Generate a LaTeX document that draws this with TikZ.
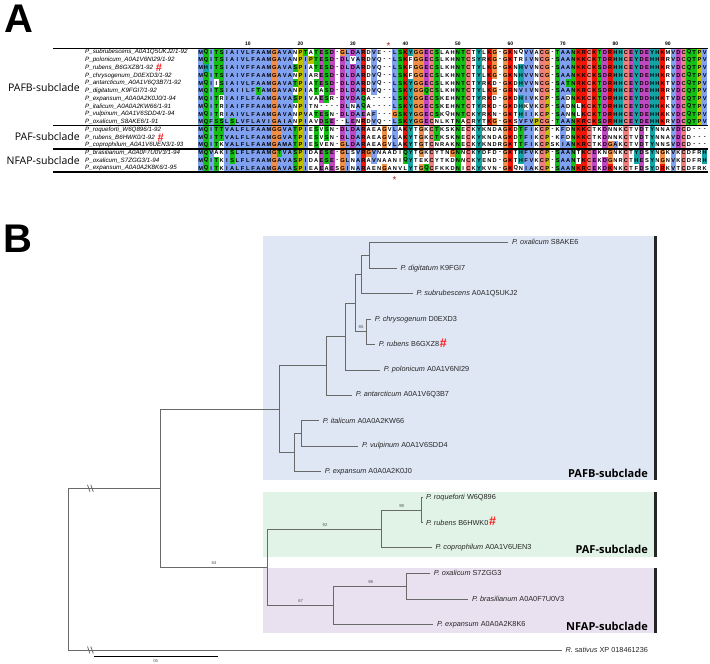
\documentclass[tikz,border=0pt]{standalone}
\usepackage{fontspec}
\setmainfont{Liberation Sans}
\newfontfamily\labfont{Open Sans}
\definecolor{cxblue}{RGB}{128,160,240}
\definecolor{cxred}{RGB}{240,21,5}
\definecolor{cxgreen}{RGB}{21,192,21}
\definecolor{cxpink}{RGB}{240,128,128}
\definecolor{cxmag}{RGB}{192,72,192}
\definecolor{cxorange}{RGB}{240,144,72}
\definecolor{cxcyan}{RGB}{21,164,164}
\definecolor{cxyellow}{RGB}{192,192,0}
\definecolor{boxblue}{RGB}{223,231,245}
\definecolor{boxgreen}{RGB}{225,243,230}
\definecolor{boxpurple}{RGB}{234,225,240}
\definecolor{treegray}{RGB}{105,105,105}
\definecolor{hashred}{RGB}{255,25,25}
\definecolor{astred}{RGB}{160,45,45}

\newcommand\alnfont{\bfseries\fontsize{5.7}{6}\selectfont}
\newcommand\alncell[4]{%
  \ifx\relax#3\relax\else
    \fill[#3] ({198.1+(#1-1)*5.25},{48.4+(#2-1)*7.73}) rectangle ++(5.3,7.78);%
  \fi
  \path ({198.1+(#1-0.5)*5.25},{52.27+(#2-1)*7.73}) node[inner sep=0pt,font=\alnfont] {#4};%
}

\ExplSyntaxOn
\seq_new:N \g_aln_rows_seq
\seq_gset_from_clist:Nn \g_aln_rows_seq
{
 MQITSIAIVLFAAMGAVANPTATESD-GLDARDVE--LSKYGGECSLAHNTCTYLKG-GKNQVVACG-TAANKRCKTDRHHCEYDEYHKMVDCQTPV,
 MQITSIAIVLFAAMGAVANPIPTESD-DLVARDVQ--LSKFGGECSLKHNTCSYRKG-GKTRIVNCG-SAANKKCKTDRHHCEYDEHHRRVDCQTPV,
 MHITSIAIVFFAAMGAVASPIATESD-DLDARDVQ--LSKFGGECSLKHNTCTYLKG-GKNHVVNCG-SAANKKCKSDRHHCEYDEHHKRVDCQTPV,
 MQITSIAIVFFAAMGAVANPIARESD-DLDARDVQ--LSKFGGECSLKHNTCTYLKG-GKNHVVNCG-SAANKKCKSDRHHCEYDEHHKRVDCQTPV,
 MQIISIAIVLFAAMGAVATPIATESD-DLDARDVQ--LSKYGGECSLKHNTCTYRKD-GKDHVVNCG-SATNRKCKTDRHHCEYDDHHKTVDCQTPV,
 MQITSIAIILFTAMGAVANPIATASD-DLDARDVQ--LSKYGGQCSLKHNTCTYLKG-GRNVIVNCG-SAANKRCKSDRHHCEYDEHHRRVDCQTPV,
 MQITRIAIFLFAAMGAVASPIVAESR-DVDAQA----LSKYGGECSKEHNTCTYRKD-GKDHIVKCP-SADNKKCKTDRHHCEYDDHHKTVDCQTPV,
 MQITRIAIFFFAAMGAVANPITN----DLNAQA----LSKYGGECSKEHNTCTYRKD-GKDHKVKCP-SADNLKCKTDRHHCEYDDHHKKVDCQTPV,
 MQITRIAIVLFAAMGAVANPVATESN-DLDAEAF---GSKYGGECSKQHNTCKYRKN-GKTHIIKCP-SANNLKCKTDRHHCEYDEHHKKVDCQTPV,
 MQFSSLSLVFLAVIGAIANPIAVDSE--LENRDVQ--LSKYGGECNLKTNACRYTKG-GKSVFVPCG-TAANKRCKSDRHHCEYDEHHKRVDCQTPV,
 MQITTVALFLFAAMGGVATPIESVSN-DLDARAEAGVLAKYTGKCTKSKNECKYKNDAGKDTFIKCP-KFDNKKCTKDNNKCTVDTYNNAVDCD---,
 MQITTVALFLFAAMGGVATPIESVSN-DLDARAEAGVLAKYTGKCTKSKNECKYKNDAGKDTFIKCP-KFDNKKCTKDNNKCTVDTYNNAVDCD---,
 MQITKVALFLFAAMGAMATPIESVEN-GLDARAEAGVLAKYTGTCNRAKNECKYKNDRGKTTFIKCPSKIANKRCTKDGAKCTVDTYNNSVDCD---,
 MQVAKISLFLFAAMGTVASPIDAESE-GLSVRGVNAADIQYTGKCYTNGNNCKYDFD-GKTHFVKCP-SAANTKCEKNGNKCTYDSYNGKVKCDFRH,
 MQITKISLFLFAAMGAVASPIDAESE-GLNARAVNAANIQYTEKCYTKDNNCKYEND-GKTHFVKCP-SAANTKCEKDGNRCTHESYNGNVKCDFRH,
 MQITKIALFLFAAMGAVASPIEAEAESGINARAENGANVLYTGQCFKKDNICKYKVN-GKQNIAKCP-SAANKRCEKDKNKCTFDSYDRKVTCDFRK
}
\tl_new:N \l_aln_col_tl
\tl_new:N \l_aln_ch_tl
\tl_new:N \l_aln_color_tl
\int_new:N \l_aln_count_int
\int_new:N \l_aln_i_int
\int_new:N \l_aln_j_int
\cs_new_protected:Npn \aln_count:n #1
  {
    \int_zero:N \l_aln_count_int
    \tl_map_inline:Nn \l_aln_col_tl
      { \tl_if_in:nnT {#1} {##1} { \int_incr:N \l_aln_count_int } }
  }
\cs_new_protected:Npn \aln_if:nnT #1#2#3
  {
    \aln_count:n {#2}
    \int_compare:nNnT { \l_aln_count_int * 100 } > { #1 * 16 } {#3}
  }
\cs_new_protected:Npn \aln_set:n #1 { \tl_set:Nn \l_aln_color_tl {#1} }
\cs_new_protected:Npn \aln_decide:n #1
  {
    \tl_clear:N \l_aln_color_tl
    \tl_if_in:nnT {AILMFWV} {#1}
      { \aln_if:nnT {60} {WLVIMAFCHP} { \aln_set:n {cxblue} } }
    \tl_if_in:nnT {KR} {#1}
      {
        \aln_if:nnT {60} {KR} { \aln_set:n {cxred} }
        \aln_if:nnT {80} {KRQ} { \aln_set:n {cxred} }
      }
    \tl_if_eq:nnT {#1} {N}
      {
        \aln_if:nnT {50} {N} { \aln_set:n {cxgreen} }
        \aln_if:nnT {85} {NY} { \aln_set:n {cxgreen} }
      }
    \tl_if_eq:nnT {#1} {C}
      {
        \aln_if:nnT {60} {WLVIMAFCHP} { \aln_set:n {cxblue} }
        \aln_if:nnT {85} {C} { \aln_set:n {cxpink} }
      }
    \tl_if_eq:nnT {#1} {Q}
      {
        \aln_if:nnT {60} {KR} { \aln_set:n {cxgreen} }
        \aln_if:nnT {50} {QE} { \aln_set:n {cxgreen} }
        \aln_if:nnT {85} {QEKR} { \aln_set:n {cxgreen} }
      }
    \tl_if_eq:nnT {#1} {E}
      {
        \aln_if:nnT {60} {KR} { \aln_set:n {cxmag} }
        \aln_if:nnT {50} {QE} { \aln_set:n {cxmag} }
        \aln_if:nnT {50} {ED} { \aln_set:n {cxmag} }
        \aln_if:nnT {85} {EQD} { \aln_set:n {cxmag} }
      }
    \tl_if_eq:nnT {#1} {D}
      {
        \aln_if:nnT {60} {KR} { \aln_set:n {cxmag} }
        \aln_if:nnT {85} {KRQ} { \aln_set:n {cxmag} }
        \aln_if:nnT {50} {ED} { \aln_set:n {cxmag} }
      }
    \tl_if_eq:nnT {#1} {G} { \aln_set:n {cxorange} }
    \tl_if_eq:nnT {#1} {P} { \aln_set:n {cxyellow} }
    \tl_if_in:nnT {HY} {#1}
      {
        \aln_if:nnT {60} {WLVIMAFCHP} { \aln_set:n {cxcyan} }
        \aln_if:nnT {85} {WYACPQFHILMV} { \aln_set:n {cxcyan} }
      }
    \tl_if_in:nnT {ST} {#1}
      {
        \aln_if:nnT {60} {WLVIMAFCHP} { \aln_set:n {cxgreen} }
        \aln_if:nnT {50} {TS} { \aln_set:n {cxgreen} }
        \aln_if:nnT {85} {ST} { \aln_set:n {cxgreen} }
      }
  }
\cs_new_protected:Npn \aln_draw:
  {
    \int_set:Nn \l_aln_j_int {1}
    \int_while_do:nNnn {\l_aln_j_int} < {98}
      {
        \tl_clear:N \l_aln_col_tl
        \seq_map_inline:Nn \g_aln_rows_seq
          { \tl_put_right:Nx \l_aln_col_tl { \tl_item:nn {##1} {\l_aln_j_int} } }
        \int_set:Nn \l_aln_i_int {1}
        \int_while_do:nNnn {\l_aln_i_int} < {17}
          {
            \tl_set:Nx \l_aln_ch_tl { \tl_item:Nn \l_aln_col_tl {\l_aln_i_int} }
            \exp_args:NV \aln_decide:n \l_aln_ch_tl
            \use:e
              {
                \exp_not:N \alncell
                  { \int_use:N \l_aln_j_int }
                  { \int_use:N \l_aln_i_int }
                  { \l_aln_color_tl }
                  { \l_aln_ch_tl }
              }
            \int_incr:N \l_aln_i_int
          }
        \int_incr:N \l_aln_j_int
      }
  }
\NewDocumentCommand \DrawAlignment {} { \aln_draw: }
\ExplSyntaxOff

\tikzset{
  tree/.style={draw=treegray, line width=0.8pt},
  leaf/.style={anchor=west, inner sep=0pt, text=black!85, font=\fontsize{7.3}{8}\selectfont},
  boot/.style={inner sep=0pt, text=black!70, font=\fontsize{4.2}{5}\selectfont},
  seqname/.style={anchor=west, inner sep=0pt, font=\itshape\fontsize{6.2}{7}\selectfont},
  cladeA/.style={anchor=east, inner sep=0pt, font=\labfont\fontsize{10.5}{12}\selectfont},
  cladeB/.style={anchor=east, inner sep=0pt, font=\labfont\bfseries\fontsize{11}{13}\selectfont},
  hashmark/.style={anchor=west, inner sep=0pt, text=hashred, font=\bfseries\fontsize{11}{11}\selectfont},
  treehash/.style={anchor=west, inner sep=0pt, text=hashred, font=\bfseries\fontsize{12.5}{12}\selectfont},
  sepline/.style={line width=1.4pt, black},
  cladebar/.style={fill=black!85},
  colnum/.style={inner sep=0pt, font=\bfseries\fontsize{5}{5}\selectfont},
  aster/.style={inner sep=0pt, text=astred, font=\fontsize{10}{10}\selectfont},
  panel/.style={inner sep=0pt, font=\bfseries\fontsize{40}{40}\selectfont},
}

\begin{document}
\begin{tikzpicture}[x=1pt,y=-1pt]
\useasboundingbox (0,0) rectangle (710,664);

% ---------------- Panel A ----------------
\node[panel] (labA) at (19,19) {A};
\DrawAlignment
\foreach \yy in {48.4,125.7,148.9,172.1} \draw[sepline] (53,\yy) -- (708,\yy);
\foreach \k in {10,20,...,90} \node[colnum] (c\k) at ({198.1+(\k-0.5)*5.25},43.5) {\k};
\node[aster] (astT) at (388.5,46.5) {*};
\node[aster] (astB) at (394.5,180.5) {*};

\node[seqname] (s1) at (85,52.27) {P\_subrubescens\_A0A1Q5UKJ2/1-92};
\node[seqname] (s2) at (85,60.0) {P\_polonicum\_A0A1V6NI29/1-92};
\node[seqname] (s3) at (85,67.73) {P\_rubens\_B6GXZ8/1-92};
\node[seqname] (s4) at (85,75.46) {P\_chrysogenum\_D0EXD3/1-92};
\node[seqname] (s5) at (85,83.19) {P\_antarcticum\_A0A1V6Q3B7/1-92};
\node[seqname] (s6) at (85,90.92) {P\_digitatum\_K9FGI7/1-92};
\node[seqname] (s7) at (85,98.65) {P\_expansum\_A0A0A2K0J0/1-94};
\node[seqname] (s8) at (85,106.38) {P\_italicum\_A0A0A2KW66/1-91};
\node[seqname] (s9) at (85,114.11) {P\_vulpinum\_A0A1V6SDD4/1-94};
\node[seqname] (s10) at (85,121.84) {P\_oxalicum\_S8AKE6/1-91};
\node[seqname] (s11) at (85,129.57) {P\_roqueforti\_W6Q896/1-92};
\node[seqname] (s12) at (85,137.3) {P\_rubens\_B6HWK0/1-92};
\node[seqname] (s13) at (85,145.03) {P\_coprophilum\_A0A1V6UEN3/1-93};
\node[seqname] (s14) at (85,152.76) {P\_brasilianum\_A0A0F7U0V3/1-94};
\node[seqname] (s15) at (85,160.49) {P\_oxalicum\_S7ZGG3/1-94};
\node[seqname] (s16) at (85,168.22) {P\_expansum\_A0A0A2K8K6/1-95};
\node[hashmark] (h1) at ([xshift=2.5pt]s3.east) {\#};
\node[hashmark] (h2) at ([xshift=2.5pt]s12.east) {\#};

\node[cladeA] (ca1) at (80,87.3) {PAFB-subclade};
\node[cladeA] (ca2) at (80,136.8) {PAF-subclade};
\node[cladeA] (ca3) at (80,160.7) {NFAP-subclade};

% ---------------- Panel B ----------------
\node[panel] (labB) at (17.5,239) {B};

\fill[boxblue] (263,236) rectangle (654,480);
\fill[boxgreen] (263,491.7) rectangle (654,556.7);
\fill[boxpurple] (263,567.7) rectangle (654,632.7);
\fill[cladebar] (654,236) rectangle (656.8,480);
\fill[cladebar] (654,491.7) rectangle (656.8,556.7);
\fill[cladebar] (654,567.7) rectangle (656.8,632.7);
\node[cladeB] (cb1) at (648,473) {PAFB-subclade};
\node[cladeB] (cb2) at (648,549) {PAF-subclade};
\node[cladeB] (cb3) at (648,626) {NFAP-subclade};

% internal nodes
\coordinate (R0) at (68.3,569.2);
\coordinate (N1) at (160,488.3);
\coordinate (P0) at (279.3,409.5);
\coordinate (N2) at (267.3,567.5);
\coordinate (A1) at (326.7,365.4);
\coordinate (B1) at (294.3,452.5);
\coordinate (B2) at (301,433.4);
\coordinate (A2) at (345,336.6);
\coordinate (A3) at (355.7,303.3);
\coordinate (A4) at (361.7,274.5);
\coordinate (A5) at (366,331.8);
\coordinate (A6) at (369,255.3);
\coordinate (C1) at (381.7,529.2);
\coordinate (C2) at (421.7,510.2);
\coordinate (D1) at (333.3,605.2);
\coordinate (D2) at (406,586.3);
% tips
\coordinate (t1) at (508.3,242.3);
\coordinate (t2) at (396.7,268.3);
\coordinate (t3) at (412.7,293.3);
\coordinate (t4) at (371,319.3);
\coordinate (t5) at (375,344.3);
\coordinate (t6) at (380,370);
\coordinate (t7) at (352,395);
\coordinate (t8) at (319,420.7);
\coordinate (t9) at (358.3,446);
\coordinate (t10) at (321,471.7);
\coordinate (t11) at (422.2,497.7);
\coordinate (t12) at (422.2,522.7);
\coordinate (t13) at (431.7,547.7);
\coordinate (t14) at (430,573.3);
\coordinate (t15) at (468.3,599.3);
\coordinate (t16) at (433.3,624.3);
\coordinate (t17) at (561.7,650);

\foreach \p/\c in {R0/N1,R0/t17,N1/P0,N1/N2,P0/A1,P0/B1,A1/A2,A1/t7,A2/A3,A2/t6,
  A3/A4,A3/A5,A4/A6,A4/t3,A6/t1,A6/t2,A5/t4,A5/t5,B1/B2,B1/t10,B2/t8,B2/t9,
  N2/C1,N2/D1,C1/C2,C1/t13,C2/t11,C2/t12,D1/D2,D1/t16,D2/t14,D2/t15}
  \draw[tree] (\p) |- (\c);

% root break marks
\draw[tree] (87.5,484.8) -- (90,491.8);
\draw[tree] (90.8,484.8) -- (93.3,491.8);
\draw[tree] (87.5,646.5) -- (90,653.5);
\draw[tree] (90.8,646.5) -- (93.3,653.5);

% leaf labels
\node[leaf] (l1) at ([xshift=3.6pt]t1) {\textit{P. oxalicum} S8AKE6};
\node[leaf] (l2) at ([xshift=3.6pt]t2) {\textit{P. digitatum} K9FGI7};
\node[leaf] (l3) at ([xshift=3.6pt]t3) {\textit{P. subrubescens} A0A1Q5UKJ2};
\node[leaf] (l4) at ([xshift=3.6pt]t4) {\textit{P. chrysogenum} D0EXD3};
\node[leaf] (l5) at ([xshift=3.6pt]t5) {\textit{P. rubens} B6GXZ8};
\node[leaf] (l6) at ([xshift=3.6pt]t6) {\textit{P. polonicum} A0A1V6NI29};
\node[leaf] (l7) at ([xshift=3.6pt]t7) {\textit{P. antarcticum} A0A1V6Q3B7};
\node[leaf] (l8) at ([xshift=3.6pt]t8) {\textit{P. italicum} A0A0A2KW66};
\node[leaf] (l9) at ([xshift=3.6pt]t9) {\textit{P. vulpinum} A0A1V6SDD4};
\node[leaf] (l10) at ([xshift=3.6pt]t10) {\textit{P. expansum} A0A0A2K0J0};
\node[leaf] (l11) at ([xshift=3.6pt]t11) {\textit{P. roqueforti} W6Q896};
\node[leaf] (l12) at ([xshift=3.6pt]t12) {\textit{P. rubens} B6HWK0};
\node[leaf] (l13) at ([xshift=3.6pt]t13) {\textit{P. coprophilum} A0A1V6UEN3};
\node[leaf] (l14) at ([xshift=3.6pt]t14) {\textit{P. oxalicum} S7ZGG3};
\node[leaf] (l15) at ([xshift=3.6pt]t15) {\textit{P. brasilianum} A0A0F7U0V3};
\node[leaf] (l16) at ([xshift=3.6pt]t16) {\textit{P. expansum} A0A0A2K8K6};
\node[leaf] (l17) at ([xshift=3.6pt]t17) {\textit{R. sativus} XP 018461236};
\node[treehash] (h3) at ([xshift=0.3pt,yshift=1.5pt]l5.east) {\#};
\node[treehash] (h4) at ([xshift=0.3pt,yshift=1.5pt]l12.east) {\#};

% bootstrap values
\node[boot] (b85) at (361,327) {85};
\node[boot] (b84) at (214,563.5) {84};
\node[boot] (b92) at (325,525) {92};
\node[boot] (b99) at (401.7,506) {99};
\node[boot] (b98) at (370.7,582.3) {98};
\node[boot] (b67) at (300.7,601) {67};

% scale bar
\coordinate (sb1) at (94.3,656.7);
\coordinate (sb2) at (218.3,656.7);
\draw[line width=1.3pt, black] (sb1) -- (sb2);
\node[boot] (sbl) at (155.7,661.5) {05};
\end{tikzpicture}
\end{document}
